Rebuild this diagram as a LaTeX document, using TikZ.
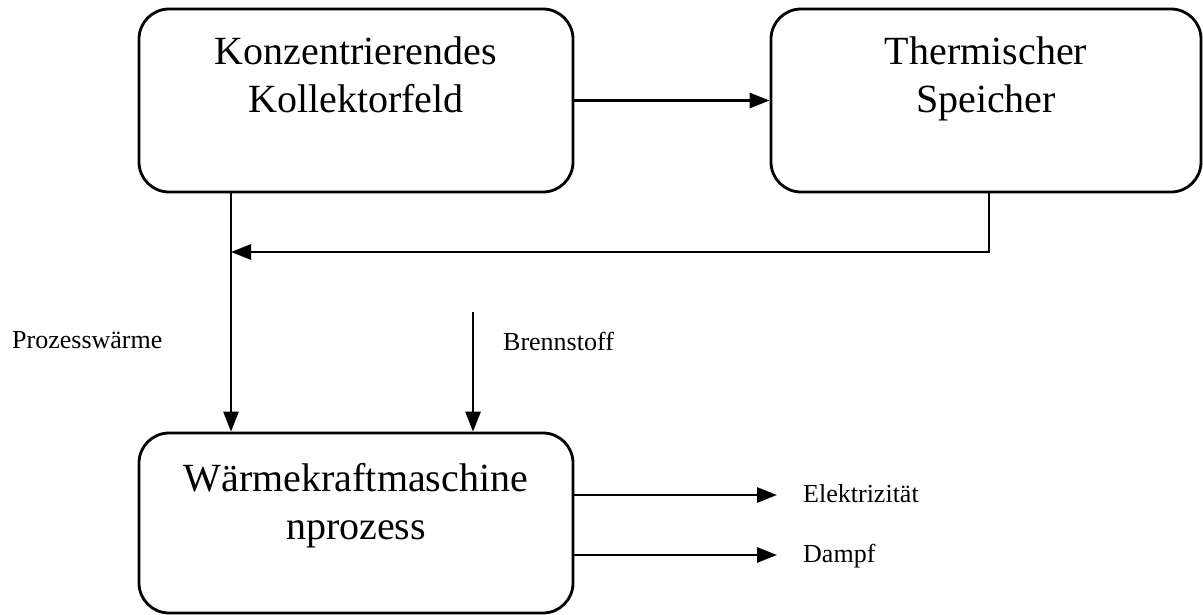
\documentclass[tikz,border=0pt]{standalone}
\usepackage{fontspec}
\setmainfont{Liberation Serif}
\usetikzlibrary{shapes, arrows.meta, positioning}

\tikzset{
  block/.style={draw, line width=2.8pt, rounded corners=30pt, inner sep=0pt},
  blocktext/.style={inner sep=0pt, align=center, font=\fontsize{40}{47.5}\selectfont},
  flowtext/.style={inner sep=0pt, font=\fontsize{26}{30}\selectfont},
  flow/.style={line width=2.8pt, -{Triangle[length=20pt, width=15pt]}}
}

\begin{document}
\begin{tikzpicture}[x=1pt, y=-1pt]
\useasboundingbox (0,0) rectangle (1203,614);
% Bloecke
\node[block, minimum width=434pt, minimum height=183pt] (kollektor) at (356,100.5) {};
\node[block, minimum width=430pt, minimum height=183pt] (speicher) at (986,100.5) {};
\node[block, minimum width=434pt, minimum height=180pt] (maschine) at (356,523) {};
\node[blocktext, below=29pt of kollektor.north] (kollektortext) {Konzentrierendes\\Kollektorfeld};
\node[blocktext, below=29pt of speicher.north] (speichertext) {Thermischer\\Speicher};
\node[blocktext, below=32pt of maschine.north] (maschinetext) {Wärmekraftmaschine\\nprozess};
% Hilfspunkte
\coordinate (merge) at (231,252);
\coordinate (fuel) at (473,312);
\coordinate (strom) at (777,495);
\coordinate (dampf) at (777,555);
% Pfeile
\draw[flow] (kollektor.east) -- (speicher.west);
\draw[flow] ([xshift=3pt]speicher.south) |- (merge);
\draw[flow] (kollektor.south -| merge) -- (maschine.north -| merge);
\draw[flow] (fuel) -- (fuel |- maschine.north);
\draw[flow] (strom -| maschine.east) -- (strom);
\draw[flow] (dampf -| maschine.east) -- (dampf);
% Beschriftungen
\node[flowtext, anchor=base west] (waerme) at (12,348) {Prozesswärme};
\node[flowtext, anchor=base west] (brennstoff) at (503,350) {Brennstoff};
\node[flowtext, anchor=base west] (elektrizitaet) at (803,502) {Elektrizität};
\node[flowtext, anchor=base west] (dampftext) at (803,562) {Dampf};
\end{tikzpicture}
\end{document}
